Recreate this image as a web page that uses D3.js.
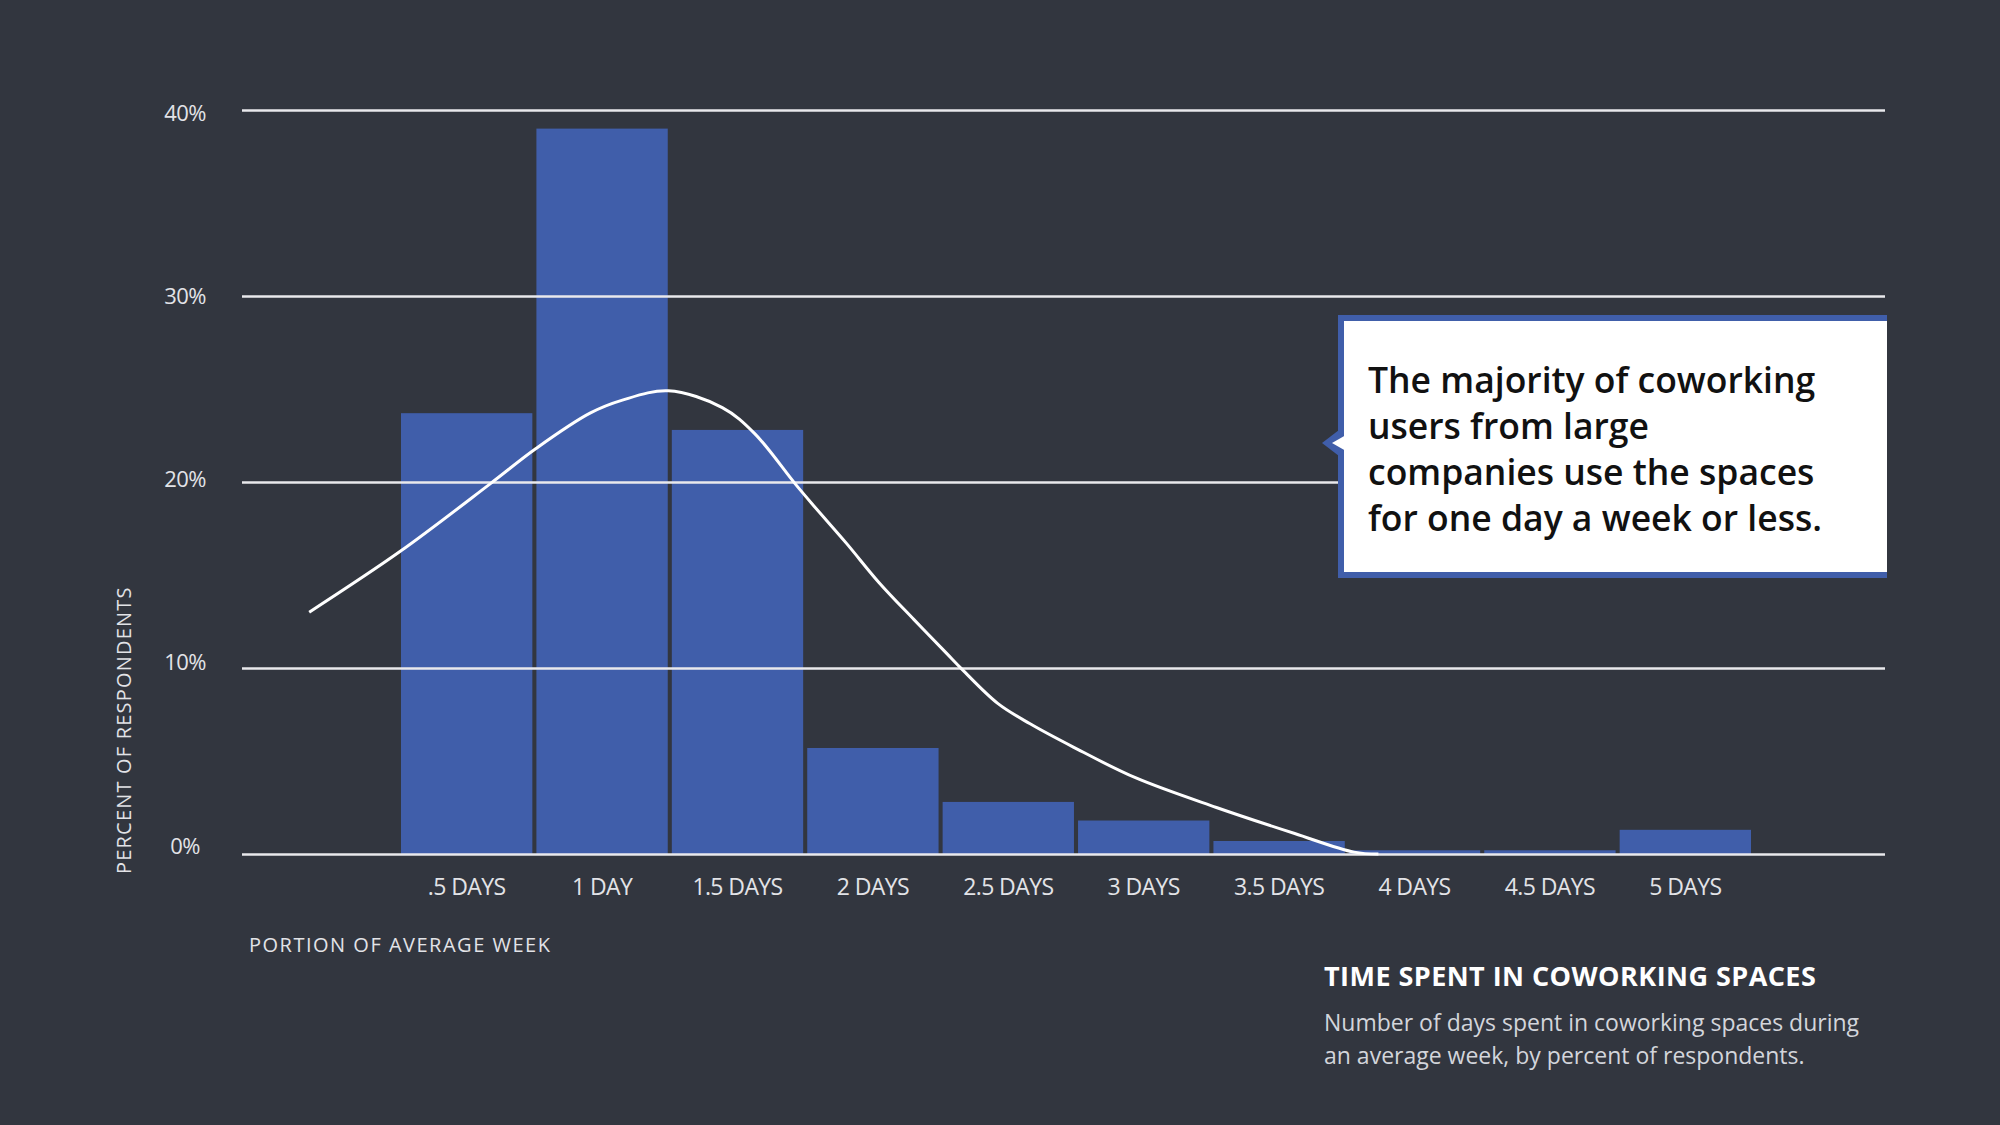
<!DOCTYPE html>
<html>
<head>
<meta charset="utf-8">
<script src="https://cdn.jsdelivr.net/npm/d3@7"></script>
<style>
  html, body { margin: 0; padding: 0; background: #32363f; }
  svg { display: block; }
</style>
</head>
<body>
<svg id="chart" width="2000" height="1125"></svg>
<script>
// ---- data ----
const categories = [".5 DAYS", "1 DAY", "1.5 DAYS", "2 DAYS", "2.5 DAYS", "3 DAYS", "3.5 DAYS", "4 DAYS", "4.5 DAYS", "5 DAYS"];
const percents   = [23.7, 39.0, 22.8, 5.7, 2.8, 1.8, 0.7, 0.2, 0.2, 1.3];
const yTicks     = [0, 10, 20, 30, 40];
// fitted curve: days, percent
const curveDays  = [-0.09, 0.25, 0.58, 0.75, 0.95, 1.07, 1.24, 1.44, 1.56, 1.71, 1.78, 1.90, 2.02, 2.15, 2.27, 2.33, 2.46, 2.58, 2.74, 2.97, 3.27, 3.56, 3.78, 3.87];
const curvePct   = [13.0, 16.3, 19.9, 21.8, 23.7, 24.4, 24.9, 24.0, 22.6, 19.9, 18.7, 16.7, 14.6, 12.6, 10.8, 9.9, 8.1, 7.0, 5.75, 4.1, 2.5, 1.1, 0.1, 0.0];
const calloutLines = ["The majority of coworking", "users from large", "companies use the spaces", "for one day a week or less."];
const yAxisTitle = "PERCENT OF RESPONDENTS";
const xAxisTitle = "PORTION OF AVERAGE WEEK";
const chartTitle = "TIME SPENT IN COWORKING SPACES";
const subtitleLines = ["Number of days spent in coworking spaces during", "an average week, by percent of respondents."];

// ---- layout ----
const BG = "#32363f", BLUE = "#405eaa", GRID = "#e9e9ec", TXT = "#e2e3e7";
const gridLeft = 242, gridRight = 1885;
const svg = d3.select("#chart");
svg.append("rect").attr("width", 2000).attr("height", 1125).attr("fill", BG);

const y = d3.scaleLinear().domain([0, 40]).range([854, 110]);
const yLabel = d3.scaleLinear().domain([0, 40]).range([846, 113]);
const x = d3.scaleBand().domain(categories).range([401, 1751]).paddingInner(0.03);
const xDays = d3.scaleLinear().domain([0.25, 5.25]).range([401, 1751]);

// bars
svg.append("g").selectAll("rect").data(categories).join("rect")
  .attr("x", d => x(d))
  .attr("width", x.bandwidth())
  .attr("y", (d, i) => y(percents[i]))
  .attr("height", (d, i) => y(0) - y(percents[i]))
  .attr("fill", BLUE);

// y axis + gridlines
const yAxis = svg.append("g").attr("transform", `translate(${gridLeft},0)`)
  .call(d3.axisLeft(y).tickValues(yTicks).tickSize(-(gridRight - gridLeft)).tickFormat(d => d + "%"));
yAxis.select(".domain").remove();
yAxis.selectAll(".tick line").attr("stroke", GRID).attr("stroke-width", 2.6);
yAxis.selectAll(".tick text")
  .attr("x", -57).attr("y", d => yLabel(d) - y(d)).attr("dy", "0.32em").attr("text-anchor", "middle")
  .attr("fill", TXT).attr("font-family", "Open Sans").attr("font-size", 22).attr("letter-spacing", -0.6);

// x axis labels
const xAxis = svg.append("g").attr("transform", `translate(0,${y(0)})`)
  .call(d3.axisBottom(x).tickSize(0).tickPadding(0));
xAxis.select(".domain").remove();
xAxis.selectAll(".tick text")
  .attr("y", 33).attr("dy", "0.35em")
  .attr("fill", TXT).attr("font-family", "Open Sans").attr("font-size", 23).attr("letter-spacing", -0.6);

// curve
const pts = curveDays.map((d, i) => [xDays(d), y(curvePct[i])]);
svg.append("path")
  .attr("d", d3.line().curve(d3.curveCatmullRom.alpha(0.5))(pts))
  .attr("fill", "none").attr("stroke", "#ffffff").attr("stroke-width", 3);

// axis titles
svg.append("text")
  .attr("transform", "translate(131,874) rotate(-90)")
  .attr("text-anchor", "start")
  .attr("fill", TXT).attr("font-family", "Open Sans").attr("font-size", 20).attr("letter-spacing", 1.2)
  .text(yAxisTitle);
svg.append("text")
  .attr("x", 249).attr("y", 952)
  .attr("fill", TXT).attr("font-family", "Open Sans").attr("font-size", 20).attr("letter-spacing", 1.5)
  .text(xAxisTitle);

// chart title + subtitle
svg.append("text")
  .attr("x", 1324).attr("y", 986)
  .attr("fill", "#ffffff").attr("font-family", "Open Sans").attr("font-weight", 700).attr("font-size", 27).attr("letter-spacing", 0.45)
  .text(chartTitle);
svg.append("g").selectAll("text").data(subtitleLines).join("text")
  .attr("x", 1324).attr("y", (d, i) => 1031 + i * 33)
  .attr("fill", "#d3d5db").attr("font-family", "Open Sans").attr("font-size", 23).attr("letter-spacing", 0)
  .text(d => d);

// callout box
const cb = svg.append("g");
cb.append("rect").attr("x", 1338).attr("y", 315).attr("width", 1887 - 1338).attr("height", 578 - 315).attr("fill", BLUE);
cb.append("rect").attr("x", 1344).attr("y", 321).attr("width", 1887 - 1344).attr("height", 572 - 321).attr("fill", "#ffffff");
cb.append("path").attr("d", "M1339,430 L1322,443 L1339,456 Z").attr("fill", BLUE);
cb.append("path").attr("d", "M1346,435 L1332,443 L1346,451 Z").attr("fill", "#ffffff");
cb.selectAll("text.cl").data(calloutLines).join("text").attr("class", "cl")
  .attr("x", 1368).attr("y", (d, i) => 393 + i * 46)
  .attr("fill", "#111111").attr("font-family", "Open Sans").attr("font-weight", 600).attr("font-size", 35.5).attr("letter-spacing", 0)
  .text(d => d);
</script>
</body>
</html>
